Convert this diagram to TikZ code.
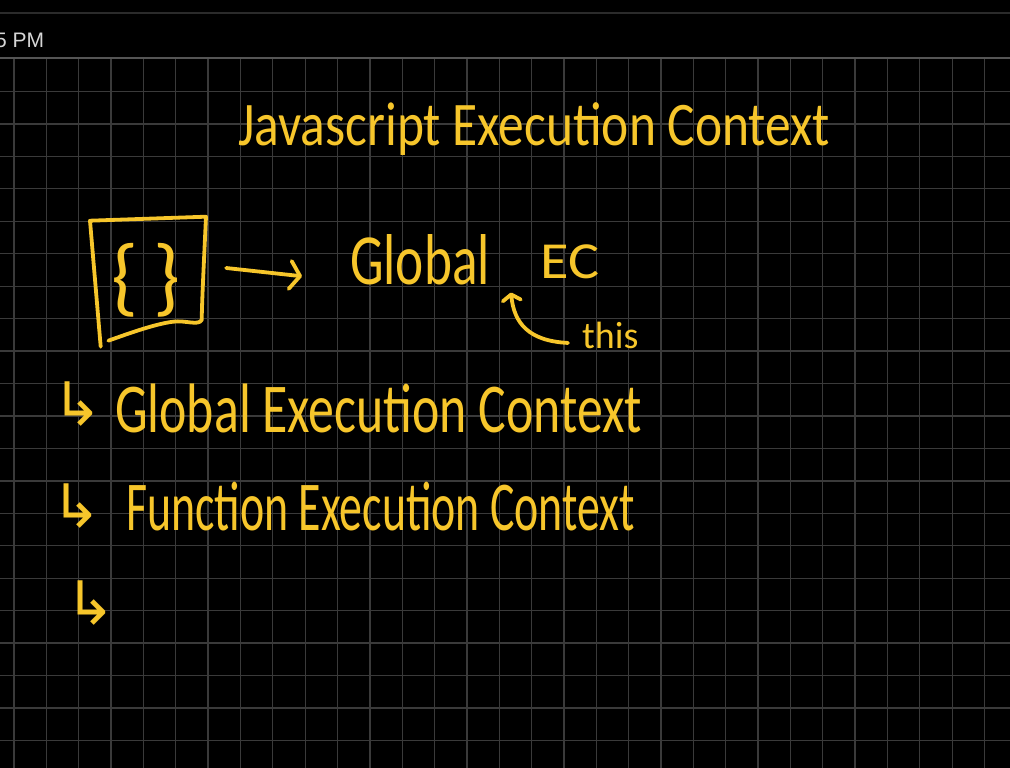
\documentclass[tikz,border=0pt]{standalone}
\usepackage{fontspec}
\newfontfamily\echandfont{Carlito}
\newfontfamily\ecsymfont{DejaVu Sans}
\newfontfamily\ecuifont{Liberation Sans}
\usetikzlibrary{arrows.meta,positioning}
\definecolor{ecink}   {HTML}{F7C62B}
\definecolor{ecgrid}  {HTML}{3A3A3A}
\definecolor{ecrule}  {HTML}{555555}
\definecolor{ecbar}   {HTML}{2B2B2B}
\definecolor{ecclock} {HTML}{D6D6D6}
\tikzset{
  echand/.style={text=ecink, inner sep=0pt, anchor=base west, transform shape},
  ecsym/.style={text=ecink, inner sep=0pt, font=\ecsymfont\fontsize{60}{60}\selectfont},
  ecstroke/.style={draw=ecink, line width=3.8pt, line cap=round, line join=round},
  ecarrow/.style={ecstroke, -{Straight Barb[length=10pt,width=28pt,round]}},
  ecbend/.style={ecstroke, -{Straight Barb[length=6pt,width=18pt,round]}},
  ecgridline/.style={draw=ecgrid, line width=1.3pt},
}

\begin{document}
\begin{tikzpicture}[x=1pt,y=-1pt]
  \fill[black] (0,0) rectangle (1010,768);
  \useasboundingbox (0,0) rectangle (1010,768);
  \draw[ecbar, line width=1.2pt] (0,13) -- (1010,13);
  \foreach \gx in {0,...,30} \draw[ecgridline] ({14+32.35*\gx},58) -- ({14+32.35*\gx},768);
  \foreach \gy in {1,...,21} \draw[ecgridline] (0,{59+32.45*\gy}) -- (1010,{59+32.45*\gy});
  \draw[ecrule, line width=1.6pt] (0,58) -- (1010,58);
  \node[text=ecclock, inner sep=0pt, anchor=base west, font=\ecuifont\fontsize{21}{21}\selectfont] (clock) at (-5,48) {5 PM};

  \node[echand, font=\echandfont\fontsize{62}{62}\selectfont, xscale=0.83] (title) at (238,146) {Javascript Execution Context};

  \draw[ecstroke] (100.7,346.7) -- (90,220.7) -- (206,216.7) .. controls (204,260) and (202,300) .. (201.7,320)
    .. controls (198,326) and (186,320) .. (173,321.7) .. controls (155,324) and (130,333) .. (108.3,340.7);
  \node[text=ecink, inner sep=0pt, minimum width=116pt, minimum height=128pt, font=\echandfont\fontsize{86}{86}\selectfont] (code) at (146,280) {\{\,\}};
  \node[echand, font=\echandfont\fontsize{72}{72}\selectfont, xscale=0.74] (global) at (350,284) {Global};
  \node[echand, font=\echandfont\fontsize{52}{52}\selectfont, xscale=1.12] (ec) at (540,278) {EC};
  \node[echand, font=\echandfont\fontsize{38}{38}\selectfont] (this) at (582,348) {this};
  \draw[ecarrow] ([shift={(22,-12)}]code.east) -- ([shift={(-48,17)}]global.west);
  \draw[ecbend] ([shift={(-14,8)}]this.west) .. controls +(-40,-2) and +(3,30) .. ([shift={(-29,14)}]ec.south west);

  \node[ecsym] (gecmark) at (78,404) {↳};
  \node[echand, font=\echandfont\fontsize{70}{70}\selectfont, xscale=0.74] (gec) at (115,432) {Global Execution Context};
  \node[ecsym] (fecmark) at (77,506) {↳};
  \node[echand, font=\echandfont\fontsize{70}{70}\selectfont, xscale=0.655] (fec) at (126,530) {Function Execution Context};
  \node[ecsym] (nextmark) at (91,603) {↳};
\end{tikzpicture}
\end{document}
